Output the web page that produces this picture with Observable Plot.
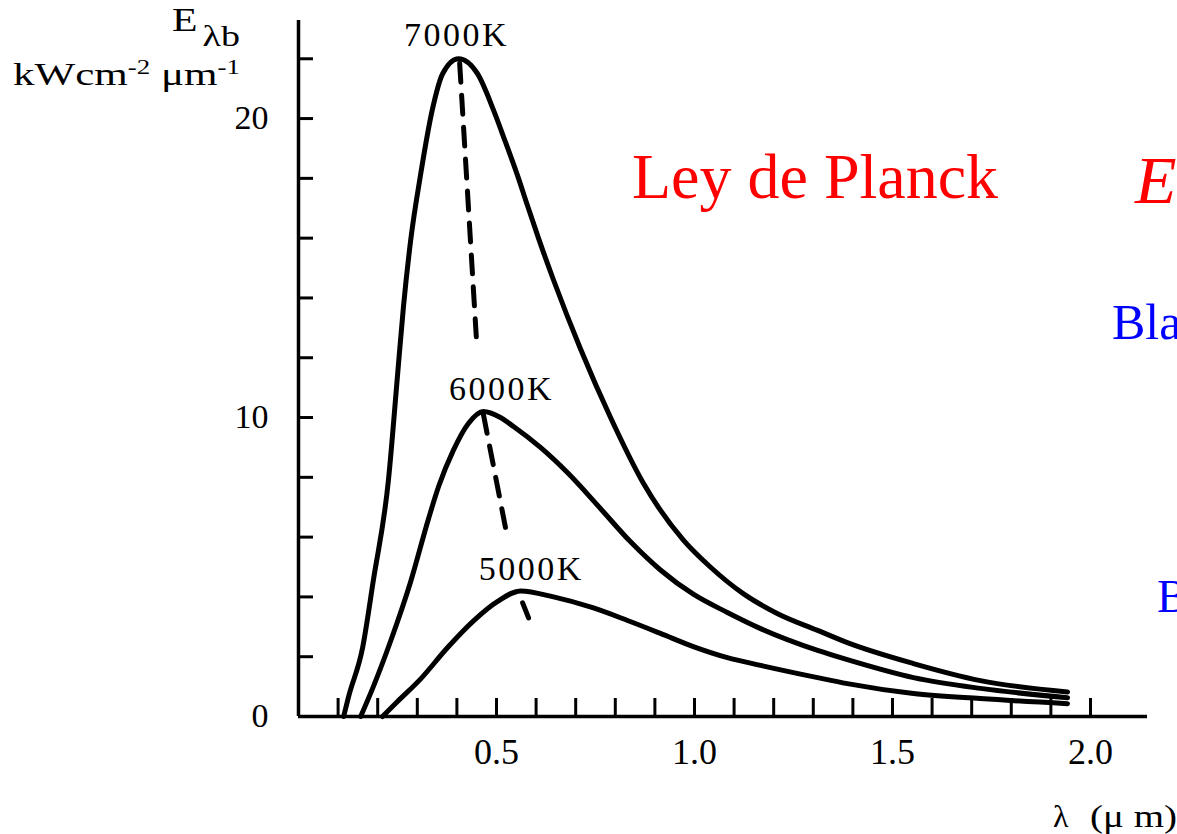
<!DOCTYPE html>
<html>
<head>
<meta charset="utf-8">
<script src="https://cdn.jsdelivr.net/npm/d3@7"></script>
<script src="https://cdn.jsdelivr.net/npm/@observablehq/plot@0.6"></script>
<style>
  html, body { margin: 0; padding: 0; background: #fff; overflow: hidden; }
  #chart { width: 1177px; height: 834px; }
</style>
</head>
<body>
<div id="chart"></div>
<script>
// Spectral emissive power of a black body, E_λb (kW cm^-2 µm^-1) vs wavelength λ (µm)
const temps = ["7000K", "6000K", "5000K"];

const lambda7000 = [0.114, 0.126, 0.162, 0.189, 0.227, 0.250, 0.265, 0.283, 0.308, 0.338, 0.364, 0.404,
  0.452, 0.492, 0.523, 0.553, 0.578, 0.606, 0.644, 0.712, 0.788, 0.871, 0.972, 1.040, 1.124, 1.210,
  1.311, 1.386, 1.553, 1.722, 1.942];
const e7000 = [0, 0.64, 2.31, 4.55, 7.89, 11.4, 13.7, 15.9, 18.1, 20.3, 21.5, 22.0,
  21.5, 20.3, 19.2, 18.1, 17.1, 16.0, 14.6, 12.3, 10.0, 7.8, 5.9, 5.0, 4.1, 3.44,
  2.88, 2.47, 1.77, 1.2, 0.82];

const lambda6000 = [0.157, 0.189, 0.232, 0.283, 0.328, 0.354, 0.391, 0.429, 0.467, 0.510, 0.543, 0.611,
  0.679, 0.763, 0.838, 0.914, 0.997, 1.083, 1.167, 1.311, 1.386, 1.553, 1.722, 1.942];
const e6000 = [0, 1.0, 2.5, 4.5, 6.6, 7.7, 8.9, 9.8, 10.2, 10.0, 9.7, 9.0,
  8.16, 6.95, 5.85, 4.9, 4.09, 3.48, 2.94, 2.21, 1.9, 1.3, 0.94, 0.63];

const lambda5000 = [0.212, 0.250, 0.308, 0.376, 0.442, 0.503, 0.561, 0.644, 0.745, 0.831, 0.914, 0.997,
  1.083, 1.167, 1.311, 1.386, 1.553, 1.722, 1.942];
const e5000 = [0, 0.5, 1.25, 2.3, 3.2, 3.85, 4.2, 4.0, 3.63, 3.21, 2.78, 2.34,
  1.97, 1.71, 1.3, 1.1, 0.77, 0.60, 0.43];

// Locus of the maxima (Wien), drawn as a dashed line broken around the labels
const wienLambda = [0.407, 0.449, 0.467, 0.523, 0.566, 0.581];
const wienE = [21.85, 12.7, 10.1, 6.3, 3.8, 3.3];
const wienSeg = [1, 1, 2, 2, 3, 3];

// Temperature labels
const labelText = ["7000K", "6000K", "5000K"];
const labelLambda = [0.399, 0.513, 0.588];
const labelE = [22.44, 10.57, 4.55];

// Axis ticks
const xMinorTicks = [0.1, 0.2, 0.3, 0.4, 0.5, 0.6, 0.7, 0.8, 0.9, 1.0, 1.1, 1.2, 1.3, 1.4, 1.5, 1.6, 1.7, 1.8, 1.9, 2.0];
const xTickLabels = [0.5, 1.0, 1.5, 2.0];
const yMinorTicks = [2, 4, 6, 8, 10, 12, 14, 16, 18, 20, 22];
const yTickLabels = [0, 10, 20];

const xMax = 2.144;
const yMax = 23.28;

const curves = [];
[[temps[0], lambda7000, e7000], [temps[1], lambda6000, e6000], [temps[2], lambda5000, e5000]]
  .forEach(([t, ls, es]) => ls.forEach((l, i) => curves.push({temp: t, lambda: l, E: es[i]})));

const wien = wienLambda.map((l, i) => ({lambda: l, E: wienE[i], seg: wienSeg[i]}));
const labels = labelText.map((t, i) => ({text: t, lambda: labelLambda[i], E: labelE[i]}));

const serif = "'Liberation Serif', 'Times New Roman', Times, serif";

const plot = Plot.plot({
  width: 1177,
  height: 834,
  marginLeft: 298,
  marginRight: 30,
  marginTop: 20,
  marginBottom: 118,
  x: {domain: [0, xMax]},
  y: {domain: [0, yMax]},
  style: {fontFamily: serif, fontSize: "34px", color: "#000", background: "#fff"},
  marks: [
    Plot.axisX(xMinorTicks, {tickSize: -18, strokeWidth: 3, tickFormat: () => "", label: null}),
    Plot.axisX(xTickLabels, {tickSize: 0, tickPadding: 22, tickFormat: d3.format(".1f"), label: null, fontSize: 36}),
    Plot.axisY(yMinorTicks, {tickSize: -15, strokeWidth: 3, tickFormat: () => "", label: null}),
    Plot.axisY(yTickLabels, {tickSize: 0, tickPadding: 30, label: null, fontSize: 34}),
    Plot.ruleY([0], {x1: 0, x2: xMax, strokeWidth: 3.5}),
    Plot.ruleX([0], {y1: 0, y2: yMax, strokeWidth: 3.5}),
    Plot.line(curves, {x: "lambda", y: "E", z: "temp", curve: "monotone-x", stroke: "#000", strokeWidth: 5, strokeLinecap: "round"}),
    Plot.line(wien, {x: "lambda", y: "E", z: "seg", stroke: "#000", strokeWidth: 5, strokeDasharray: "19 13"}),
    Plot.text(labels, {x: "lambda", y: "E", text: "text", lineAnchor: "bottom", fontSize: 34, fill: "#000"})
  ]
});

document.getElementById("chart").appendChild(plot);

const svg = d3.select(plot);

// the temperature labels are set a little wide
svg.selectAll("g[aria-label='text'] text").style("letter-spacing", "2.5px");

// Axis titles and slide headings written into the SVG
function addText(x, y, size) {
  return svg.append("text").attr("x", x).attr("y", y)
    .attr("text-anchor", "start")
    .attr("font-family", serif).attr("font-size", size).attr("fill", "#000");
}

const yTitle1 = addText(172, 31, 33).attr("textLength", 68).attr("lengthAdjust", "spacingAndGlyphs");
yTitle1.append("tspan").text("E");
yTitle1.append("tspan").attr("dx", 4).attr("dy", 15).attr("font-size", 30).text("λb");

const yTitle2 = addText(13, 85, 32).attr("textLength", 227).attr("lengthAdjust", "spacingAndGlyphs");
yTitle2.append("tspan").text("kWcm");
yTitle2.append("tspan").attr("dy", -11).attr("font-size", 20).text("-2");
yTitle2.append("tspan").attr("dy", 11).text(" μm");
yTitle2.append("tspan").attr("dy", -11).attr("font-size", 20).text("-1");

addText(1053, 827, 32).text("λ");
addText(1090, 827, 32).attr("textLength", 87).attr("lengthAdjust", "spacingAndGlyphs").text("(μ m)");

addText(632, 198, 64).attr("fill", "#ff0000").text("Ley de Planck");
addText(1135, 203, 68).attr("font-style", "italic").attr("fill", "#ff0000").text("E");
addText(1112, 339, 50).attr("fill", "#0000ff").text("Bla");
addText(1157, 612, 46).attr("fill", "#0000ff").text("B");
</script>
</body>
</html>
